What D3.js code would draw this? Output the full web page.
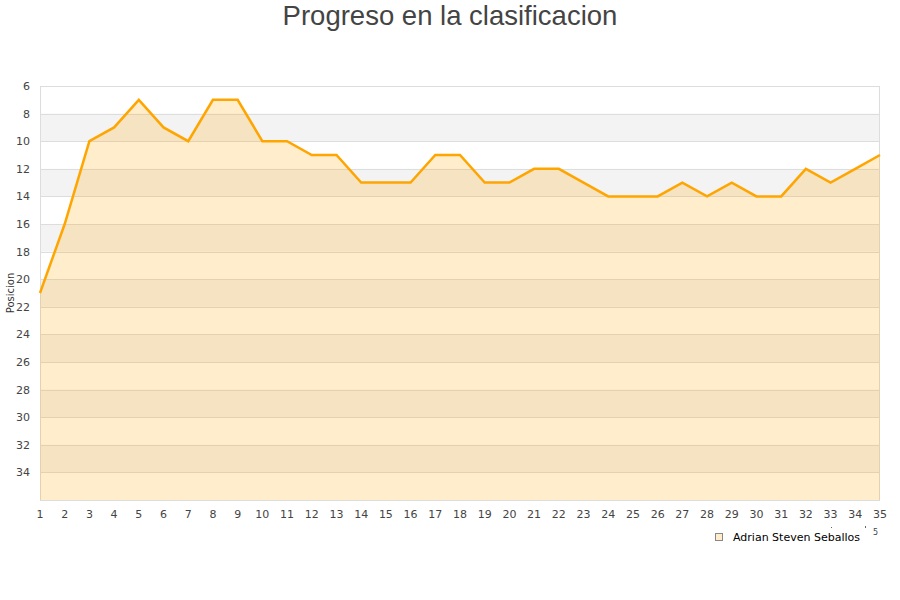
<!DOCTYPE html>
<html>
<head>
<meta charset="utf-8">
<script src="https://cdn.jsdelivr.net/npm/d3@7"></script>
<style>
body{margin:0;background:#fff;}
svg{display:block;}
</style>
</head>
<body>
<svg id="chart" width="900" height="600"></svg>
<script>
const jornadas = d3.range(1, 36);
const posiciones = [21,16,10,9,7,9,10,7,7,10,10,11,11,13,13,13,11,11,13,13,12,12,13,14,14,14,13,14,13,14,14,12,13,12,11];
const yTicks = [6,8,10,12,14,16,18,20,22,24,26,28,30,32,34];
const bandStarts = [8,12,16,20,24,28,32];
const serieNombre = "Adrian Steven Seballos";
const titulo = "Progreso en la clasificacion";

const svg = d3.select("#chart");
const L = 40, R = 880, T = 86, B = 500;
const x = d3.scaleLinear().domain([1, 35]).range([L, R]);
const y = d3.scaleLinear().domain([6, 36]).range([T, B]);

// bands
svg.append("g").selectAll("rect").data(bandStarts).join("rect")
  .attr("x", L).attr("width", R - L)
  .attr("y", d => y(d)).attr("height", d => y(d + 2) - y(d))
  .attr("fill", "#f3f3f3");

// grid lines
svg.append("g").selectAll("line").data(yTicks.slice(1)).join("line")
  .attr("x1", L).attr("x2", R)
  .attr("y1", d => Math.round(y(d)) + 0.5).attr("y2", d => Math.round(y(d)) + 0.5)
  .attr("stroke", "#dddddd").attr("stroke-width", 1);

// frame
svg.append("rect").attr("x", L + 0.5).attr("y", T + 0.5)
  .attr("width", R - L - 1).attr("height", B - T)
  .attr("fill", "none").attr("stroke", "#dddddd");

const data = jornadas.map((j, i) => ({j, p: posiciones[i]}));

// area
svg.append("path").datum(data)
  .attr("d", d3.area().x(d => x(d.j)).y0(y(36)).y1(d => y(d.p)))
  .attr("fill", "rgba(255,165,0,0.2)");

// line
svg.append("path").datum(data)
  .attr("d", d3.line().x(d => x(d.j)).y(d => y(d.p)))
  .attr("fill", "none").attr("stroke", "#ffa500").attr("stroke-width", 2.5)
  .attr("stroke-linejoin", "miter");

// y axis labels
svg.append("g").selectAll("text").data(yTicks).join("text")
  .attr("x", 30).attr("y", d => y(d) + 4)
  .attr("text-anchor", "end")
  .attr("font-family", "DejaVu Sans").attr("font-size", 11).attr("fill", "#444")
  .text(d => d);

// x axis labels
svg.append("g").selectAll("text").data(jornadas).join("text")
  .attr("x", d => x(d)).attr("y", 518)
  .attr("text-anchor", "middle")
  .attr("font-family", "DejaVu Sans").attr("font-size", 11).attr("fill", "#444")
  .text(d => d);

// y axis title
svg.append("text")
  .attr("transform", "translate(14,293) rotate(-90)")
  .attr("text-anchor", "middle")
  .attr("font-family", "DejaVu Sans").attr("font-size", 10).attr("fill", "#333")
  .text("Posicion");

// title
svg.append("text").attr("x", 450).attr("y", 25)
  .attr("text-anchor", "middle")
  .attr("font-family", "Liberation Sans, Arial").attr("font-size", 27.5).attr("fill", "#444")
  .text(titulo);

// legend
svg.append("rect").attr("x", 715.5).attr("y", 533.5).attr("width", 7).attr("height", 7)
  .attr("fill", "#ffedcc").attr("stroke", "#888");
svg.append("text").attr("x", 733).attr("y", 541)
  .attr("font-family", "DejaVu Sans").attr("font-size", 11).attr("fill", "#000")
  .text(serieNombre);
svg.append("text").attr("x", 873).attr("y", 535)
  .attr("font-family", "DejaVu Sans").attr("font-size", 8).attr("fill", "#444")
  .text("5");
svg.append("rect").attr("x", 831).attr("y", 527).attr("width", 1).attr("height", 1).attr("fill", "#666");
svg.append("rect").attr("x", 865).attr("y", 526).attr("width", 1).attr("height", 2).attr("fill", "#666");
</script>
</body>
</html>
